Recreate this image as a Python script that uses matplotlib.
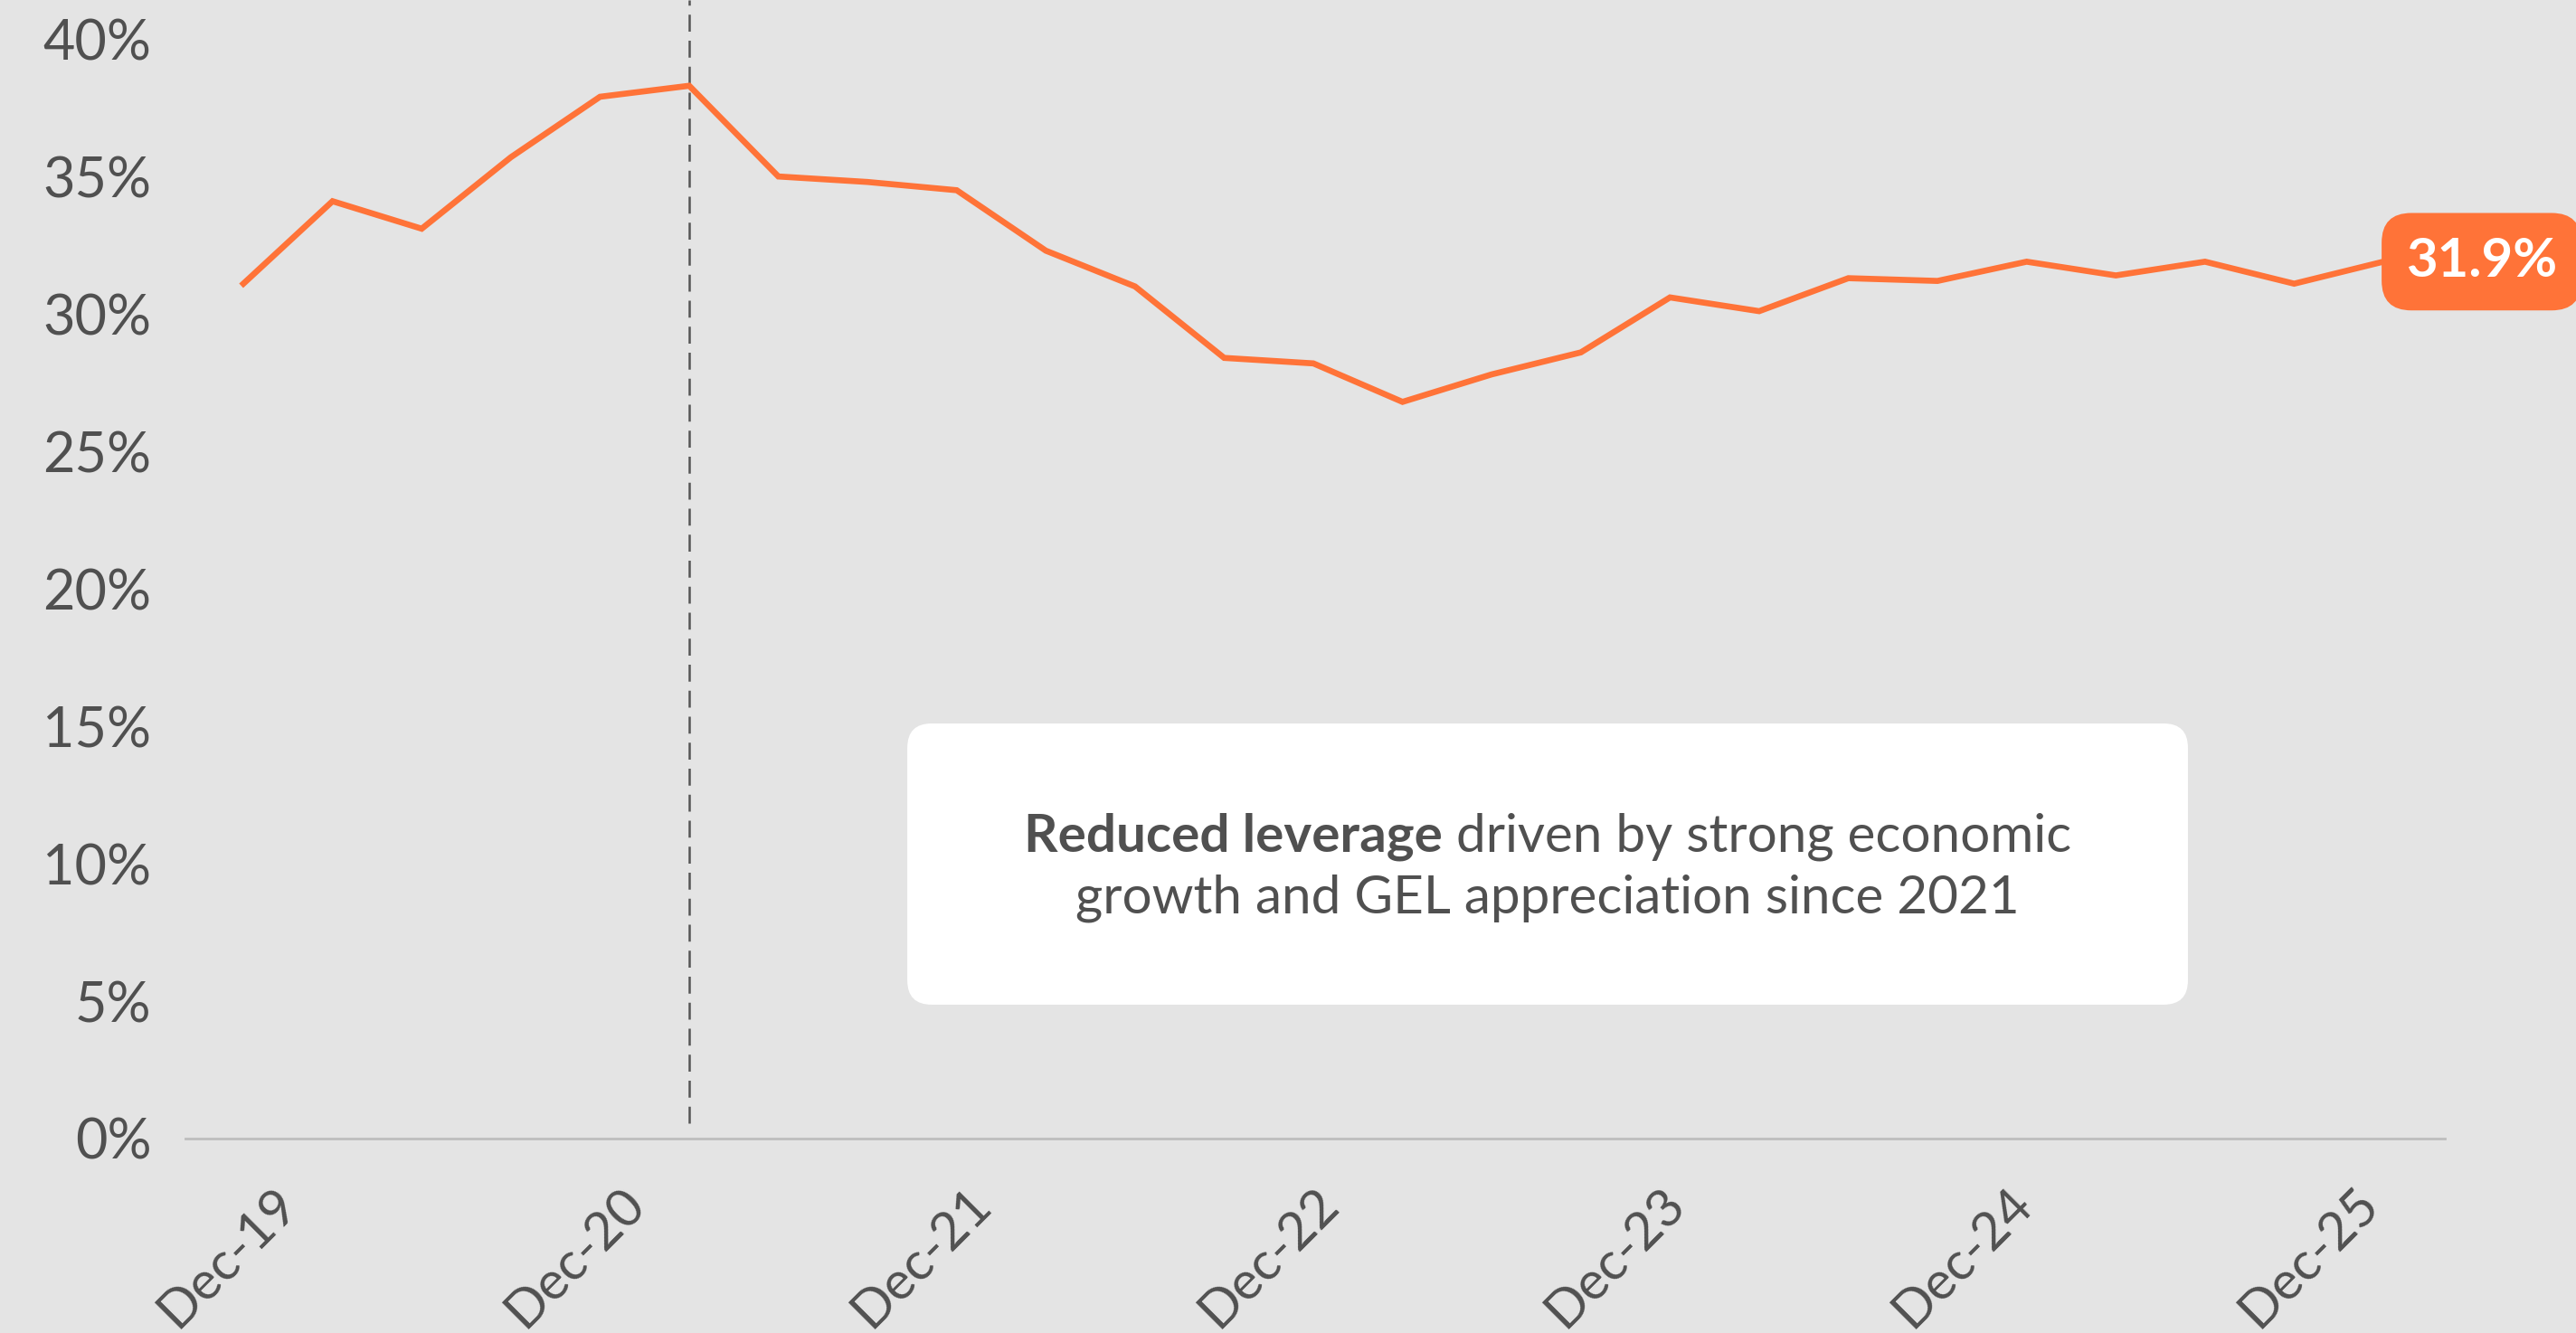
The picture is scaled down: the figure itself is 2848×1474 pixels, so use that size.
import numpy as np
import matplotlib
matplotlib.use("Agg")
from matplotlib import pyplot as plt
from matplotlib.patches import FancyBboxPatch
from matplotlib.offsetbox import TextArea, HPacker, VPacker, AnnotationBbox

plt.rcParams["font.family"] = ["Lato", "DejaVu Sans"]

# leverage ratio, quarterly points
leverage = [31.1, 34.1, 33.1, 35.7, 37.9, 38.3, 35.0, 34.8, 34.5, 32.3, 31.0, 28.4, 28.2,
            26.8, 27.8, 28.6, 30.6, 30.1, 31.3, 31.2, 31.9, 31.4, 31.9, 31.1, 31.9]
tick_labels = ["Dec-19", "Dec-20", "Dec-21", "Dec-22", "Dec-23", "Dec-24", "Dec-25"]
y_ticks = [0, 5, 10, 15, 20, 25, 30, 35, 40]
marker_idx = 5
last_label = "31.9%"

bg = "#E4E4E4"
orange = "#FF7338"
txt = "#505050"

fig = plt.figure(figsize=(14.24, 7.37), dpi=200, facecolor=bg)
ax = fig.add_axes([205 / 2848, 1 - 1259 / 1474, 2498 / 2848, 1259 / 1474])
ax.set_facecolor(bg)

x = np.arange(len(leverage))
ax.plot(x, leverage, color=orange, lw=2.4, solid_joinstyle="miter", zorder=3)

ax.set_xlim(-0.65, 24.69)
ax.set_ylim(0, 41.42)

# vertical dashed marker
ax.vlines(x[marker_idx], 0.55, 41.42, colors="#555555", lw=0.9, linestyles=(0, (7.5, 4)), zorder=2)

# axes styling
for s in ["top", "right", "left"]:
    ax.spines[s].set_visible(False)
ax.spines["bottom"].set_color("#BDBDBD")
ax.spines["bottom"].set_linewidth(1.0)

ax.set_yticks(y_ticks)
ax.set_yticklabels([f"{v}%" for v in y_ticks])
ax.tick_params(axis="y", length=0, pad=13.5, labelsize=22, labelcolor=txt)

ax.set_xticks(np.arange(len(tick_labels)) * 3.89 - 0.17)
ax.set_xticklabels(tick_labels, rotation=45, ha="center")
ax.tick_params(axis="x", length=0, pad=16, labelsize=21, labelcolor=txt)

# last value badge
ax.annotate(last_label, xy=(x[-1], leverage[-1]), xytext=(9, 0), textcoords="offset points",
            ha="left", va="center", color="white", fontsize=21.5, fontweight="bold",
            bbox=dict(boxstyle="round,pad=0.45,rounding_size=0.55", fc=orange, ec="none"),
            annotation_clip=False, zorder=5)

# comment box
box = FancyBboxPatch((0.3195, 0.1176), 0.5668, 0.247,
                     boxstyle="round,pad=0,rounding_size=0.0108", mutation_aspect=2498 / 1259,
                     transform=ax.transAxes, fc="white", ec="none", zorder=4)
ax.add_patch(box)

line1 = HPacker(children=[
    TextArea("Reduced leverage", textprops=dict(color=txt, fontsize=21, fontweight="bold")),
    TextArea(" driven by strong economic", textprops=dict(color=txt, fontsize=21)),
], align="baseline", pad=0, sep=0)
line2 = TextArea("growth and GEL appreciation since 2021", textprops=dict(color=txt, fontsize=21))
block = VPacker(children=[line1, line2], align="center", pad=0, sep=5)
ab = AnnotationBbox(block, (0.603, 0.238), xycoords="axes fraction", frameon=False,
                    box_alignment=(0.5, 0.5), zorder=6)
ax.add_artist(ab)

plt.savefig("out.png", dpi=200, facecolor=bg)
plt.close()
